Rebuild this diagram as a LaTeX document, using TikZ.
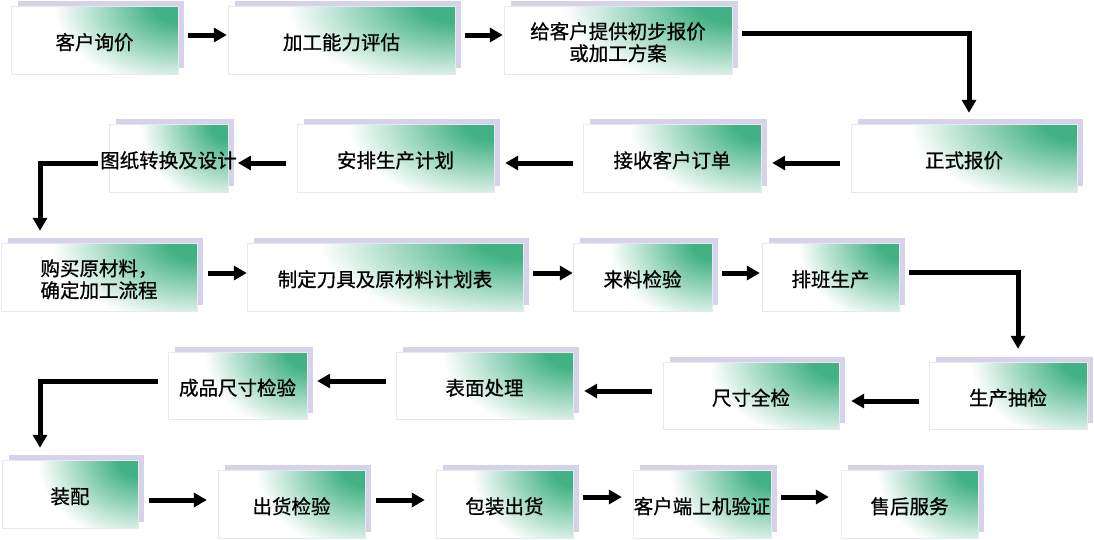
\documentclass[tikz,border=0pt]{standalone}
\usepackage{fontspec}
\newfontfamily\cjk[FakeBold=0.8]{Noto Sans CJK SC}
\usetikzlibrary{arrows.meta}
\definecolor{boxgreen}{RGB}{66,178,132}
\definecolor{lav}{RGB}{214,210,232}
\definecolor{boxedge}{RGB}{232,232,240}
\pgfdeclareradialshading{boxshade}{\pgfpoint{0bp}{0bp}}{color(0bp)=(boxgreen); color(5bp)=(boxgreen); color(25bp)=(white); color(50bp)=(white)}
\tikzset{
  boxtext/.style={inner sep=0pt, align=center, font=\cjk\fontsize{19.5pt}{22pt}\selectfont},
  boxline/.style={draw=boxedge, line width=0.8pt},
  arr/.style={line width=5pt, line join=miter, -{Triangle[length=13pt,width=14pt]}},
}
% name, x1, y1, x2, y2, text
\newcommand\pbox[6]{%
  \fill[lav] ({#2+7},{#3-5}) rectangle ({#4+6},{#5-6});
  \begin{scope}
    \clip (#2,#3) rectangle (#4,#5);
    \fill[white] (#2,#3) rectangle (#4,#5);
    \shade[shading=boxshade] ({#4-0.74*(#4-#2)},{#3-1.2*(#5-#3)}) rectangle ({#4+0.74*(#4-#2)},{#3+1.2*(#5-#3)});
  \end{scope}
  \draw[boxline] (#2,#3) rectangle (#4,#5);
  \node[boxtext, minimum width={(#4-#2)*1pt}, minimum height={(#5-#3)*1pt}] (#1) at ({(#2+#4)/2},{(#3+#5)/2}) {\rule{0pt}{21pt}#6};
}
\begin{document}
\begin{tikzpicture}[x=1pt,y=-1pt]
\fill[white] (0,0) rectangle (1094,539);
\useasboundingbox (0,0) rectangle (1094,539);
% row 1
\pbox{khxj}{11}{6}{178}{74}{客户询价}
\pbox{jgnl}{228}{6}{455}{74}{加工能力评估}
\pbox{gkh}{504}{6}{732}{74}{给客户提供初步报价\\或加工方案}
% row 2
\pbox{zsbj}{851}{124}{1077}{192}{正式报价}
\pbox{jskh}{583}{124}{761}{192}{接收客户订单}
\pbox{apsc}{297}{124}{494}{192}{安排生产计划}
\pbox{tzzh}{109}{124}{228}{192}{图纸转换及设计}
% row 3
\pbox{gmycl}{1}{243}{197}{311}{购买原材料，\\确定加工流程}
\pbox{zdjj}{247}{243}{523}{311}{制定刀具及原材料计划表}
\pbox{llj}{573}{243}{712}{311}{来料检验}
\pbox{pbsc}{762}{243}{899}{311}{排班生产}
% row 4
\pbox{scjc}{929}{362}{1087}{429}{生产抽检}
\pbox{cqj}{663}{362}{839}{429}{尺寸全检}
\pbox{bmcl}{396}{352}{573}{419}{表面处理}
\pbox{cpcc}{168}{352}{307}{419}{成品尺寸检验}
% row 5
\pbox{zp}{2}{460}{138}{528}{装配}
\pbox{chjy}{218}{470}{365}{538}{出货检验}
\pbox{bzch}{436}{470}{573}{538}{包装出货}
\pbox{khd}{633}{470}{771}{538}{客户端上机验证}
\pbox{shfw}{841}{470}{978}{538}{售后服务}
% arrows
\draw[arr] ([xshift=10pt,yshift=5pt]khxj.east) -- ([xshift=-1pt,yshift=5pt]jgnl.west);
\draw[arr] ([xshift=10pt,yshift=5pt]jgnl.east) -- ([xshift=-1pt,yshift=5pt]gkh.west);
\coordinate (c1) at (969,33);
\draw[arr] ([xshift=10pt,yshift=7pt]gkh.east) -- (c1) -- ([xshift=5pt,yshift=11pt]zsbj.north);
\draw[arr] ([xshift=-11pt,yshift=-5pt]zsbj.west) -- ([xshift=11pt,yshift=-5pt]jskh.east);
\draw[arr] ([xshift=-10pt,yshift=-5pt]jskh.west) -- ([xshift=11pt,yshift=-5pt]apsc.east);
\draw[arr] ([xshift=-11pt,yshift=-5pt]apsc.west) -- ([xshift=1pt,yshift=-5pt]tzzh.east);
\coordinate (c2) at (40,163);
\draw[arr] ([xshift=-2pt,yshift=-5pt]tzzh.west) -- (c2) -- ([yshift=12pt]c2 |- gmycl.north);
\draw[arr] ([xshift=11pt,yshift=4pt]gmycl.east) -- ([yshift=4pt]zdjj.west);
\draw[arr] ([xshift=10pt,yshift=4pt]zdjj.east) -- ([yshift=4pt]llj.west);
\draw[arr] ([xshift=10pt,yshift=4pt]llj.east) -- ([xshift=-2pt,yshift=4pt]pbsc.west);
\coordinate (c3) at (1018,272);
\draw[arr] ([xshift=10pt,yshift=5pt]pbsc.east) -- (c3) -- ([yshift=13pt]c3 |- scjc.north);
\draw[arr] ([xshift=-10pt,yshift=-5.5pt]scjc.west) -- ([xshift=12pt,yshift=-5.5pt]cqj.east);
\draw[arr] ([xshift=-11pt,yshift=4.5pt]cqj.west) -- ([xshift=11pt,yshift=-5.5pt]bmcl.east);
\draw[arr] ([xshift=-10pt,yshift=4.5pt]bmcl.west) -- ([xshift=10pt,yshift=4.5pt]cpcc.east);
\coordinate (c4) at (40,381);
\draw[arr] ([xshift=-10pt,yshift=4.5pt]cpcc.west) -- (c4) -- ([yshift=12pt]c4 |- zp.north);
\draw[arr] ([xshift=11pt,yshift=-6pt]zp.east) -- ([xshift=-11pt,yshift=4pt]chjy.west);
\draw[arr] ([xshift=11pt,yshift=4pt]chjy.east) -- ([xshift=-11pt,yshift=4pt]bzch.west);
\draw[arr] ([xshift=10pt,yshift=7pt]bzch.east) -- ([xshift=-11pt,yshift=7pt]khd.west);
\draw[arr] ([xshift=10pt,yshift=7pt]khd.east) -- ([xshift=-12pt,yshift=7pt]shfw.west);
\end{tikzpicture}
\end{document}
